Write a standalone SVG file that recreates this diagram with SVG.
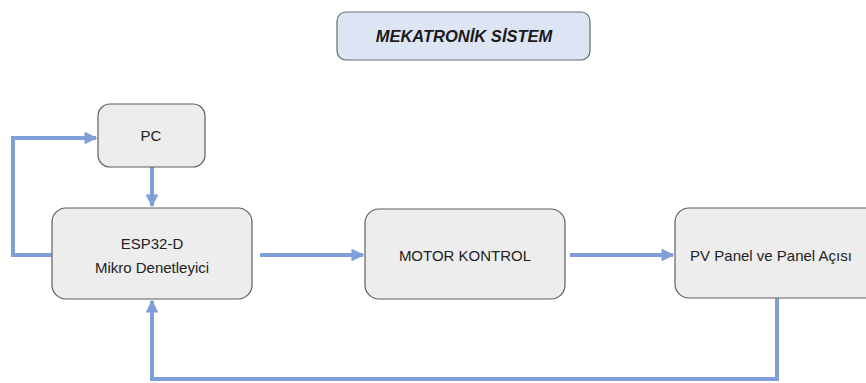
<svg xmlns="http://www.w3.org/2000/svg" width="866" height="383" viewBox="0 0 866 383">
<defs>
<style>
.box{fill:#ededed;stroke:#5f5f5f;stroke-width:1.2}
.title{fill:#dde4f4;stroke:#6a6a6a;stroke-width:1.2}
.t{font-family:"Liberation Sans",Arial,sans-serif;font-size:15px;fill:#222;text-anchor:middle}
.tt{font-family:"Liberation Sans",Arial,sans-serif;font-size:16.5px;font-weight:bold;font-style:italic;fill:#1a1a1a;text-anchor:middle}
.c{fill:none;stroke:#7f9fd8;stroke-width:4;marker-end:url(#ah)}
</style>
<marker id="ah" viewBox="0 0 10 10" refX="9" refY="5" markerWidth="3.2" markerHeight="3.2" orient="auto" markerUnits="strokeWidth">
<path d="M0,0 L10,5 L0,10 z" fill="#7f9fd8"/>
</marker>
</defs>
<rect width="866" height="383" fill="#ffffff"/>
<g id="title">
<rect class="title" x="337" y="12" width="253" height="48" rx="9"/>
<text class="tt" x="464" y="42">MEKATRONİK SİSTEM</text>
</g>
<g id="connectors">
<path class="c" d="M52,255 H13 V138 H96"/>
<path class="c" d="M152,167 V206"/>
<path class="c" d="M260,255 H363"/>
<path class="c" d="M570,255 H673"/>
<path class="c" d="M777,298 V379 H152 V301"/>
</g>
<g id="pc">
<rect class="box" x="98" y="104" width="107" height="63" rx="12"/>
<text class="t" x="151" y="141">PC</text>
</g>
<g id="esp32">
<rect class="box" x="52" y="208" width="200" height="91" rx="14"/>
<text class="t" x="152" y="249">ESP32-D</text>
<text class="t" x="152" y="273">Mikro Denetleyici</text>
</g>
<g id="motor">
<rect class="box" x="365" y="209" width="200" height="90" rx="14"/>
<text class="t" x="465" y="261">MOTOR KONTROL</text>
</g>
<g id="pv">
<rect class="box" x="675" y="208" width="205" height="90" rx="14"/>
<text class="t" x="771" y="261">PV Panel ve Panel Açısı</text>
</g>
</svg>
